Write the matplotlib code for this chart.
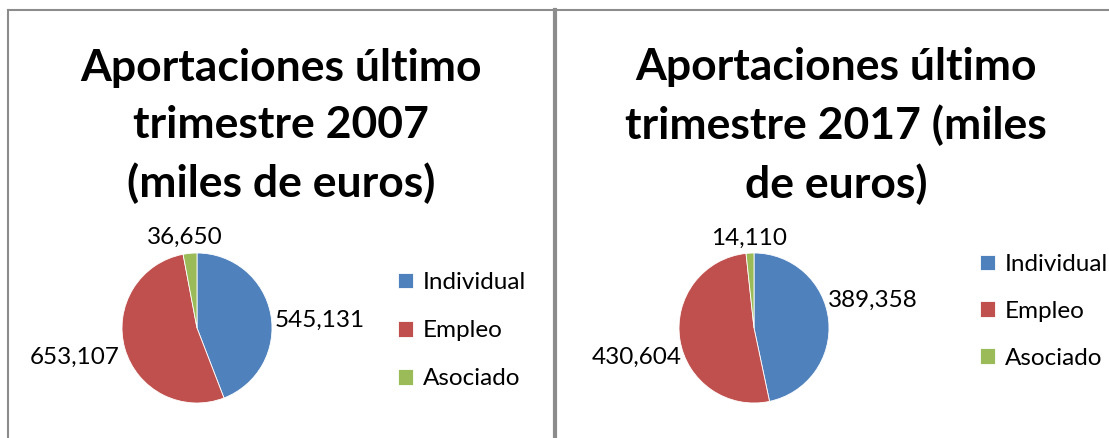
import matplotlib.pyplot as plt
from matplotlib.lines import Line2D
import numpy as np

plt.rcParams['font.family'] = ['Lato', 'DejaVu Sans']

categorias = ['Individual', 'Empleo', 'Asociado']
valores_2007 = [545131, 653107, 36650]
valores_2017 = [389358, 430604, 14110]
titulo_2007 = 'Aportaciones último\ntrimestre 2007\n(miles de euros)'
titulo_2017 = 'Aportaciones último\ntrimestre 2017 (miles\nde euros)'
colores = ['#4F81BD', '#C0504D', '#9BBB59']

W, H = 1109, 438
fig = plt.figure(figsize=(W / 100, H / 100), dpi=100)


def px_axes(cx, cy, r):
    # axes square around pie center given in pixels (y from top)
    return fig.add_axes([(cx - r) / W, (H - cy - r) / H, 2 * r / W, 2 * r / H])


def dibujar(cx, cy, valores, titulo, tx, etiq, leg_x, leg_y, leg_sp):
    ax = px_axes(cx, cy, 75)
    wedges, _ = ax.pie(valores, colors=colores, startangle=90, counterclock=False,
                       radius=1, wedgeprops=dict(linewidth=0.6, edgecolor='white'))
    ax.set_xlim(-1, 1)
    ax.set_ylim(-1, 1)
    ax.set_aspect('equal')
    # etiquetas de datos: (distancia, desplazamiento angular) como "mejor ajuste" de Excel
    for w, v, (d, da) in zip(wedges, valores, etiq):
        ang = np.deg2rad((w.theta1 + w.theta2) / 2 + da)
        ax.text(d * np.cos(ang), d * np.sin(ang), f'{v:,}', ha='center', va='center',
                fontsize=17.5, color='black')
    fig.text(tx / W, 1 - 126 / H, titulo, ha='center', va='center', fontsize=32,
             fontweight='bold', linespacing=1.5)
    fig.legend(wedges, categorias, loc='upper left', bbox_to_anchor=(leg_x / W, 1 - leg_y / H),
               frameon=False, fontsize=17.5, handlelength=0.62, handleheight=0.62,
               handletextpad=0.4, labelspacing=leg_sp, borderpad=0, borderaxespad=0)


dibujar(197, 328, valores_2007, titulo_2007, 281,
        [(1.64, -6.8), (1.68, -2.6), (1.22, 2)], 398, 272, 1.12)
dibujar(754, 328, valores_2017, titulo_2017, 836,
        [(1.63, 7), (1.61, 5), (1.2, 0)], 980, 254, 1.06)

# marcos de los graficos
grey = '#8C8C8C'
fig.add_artist(Line2D([8 / W, 1], [1 - 10 / H, 1 - 10 / H], color=grey, lw=1.5))
fig.add_artist(Line2D([8 / W, 8 / W], [0, 1 - 10 / H], color=grey, lw=1.5))
fig.add_artist(Line2D([555 / W, 555 / W], [0, 1 - 10 / H], color=grey, lw=3))

fig.savefig('out.png', dpi=100, facecolor='white')
